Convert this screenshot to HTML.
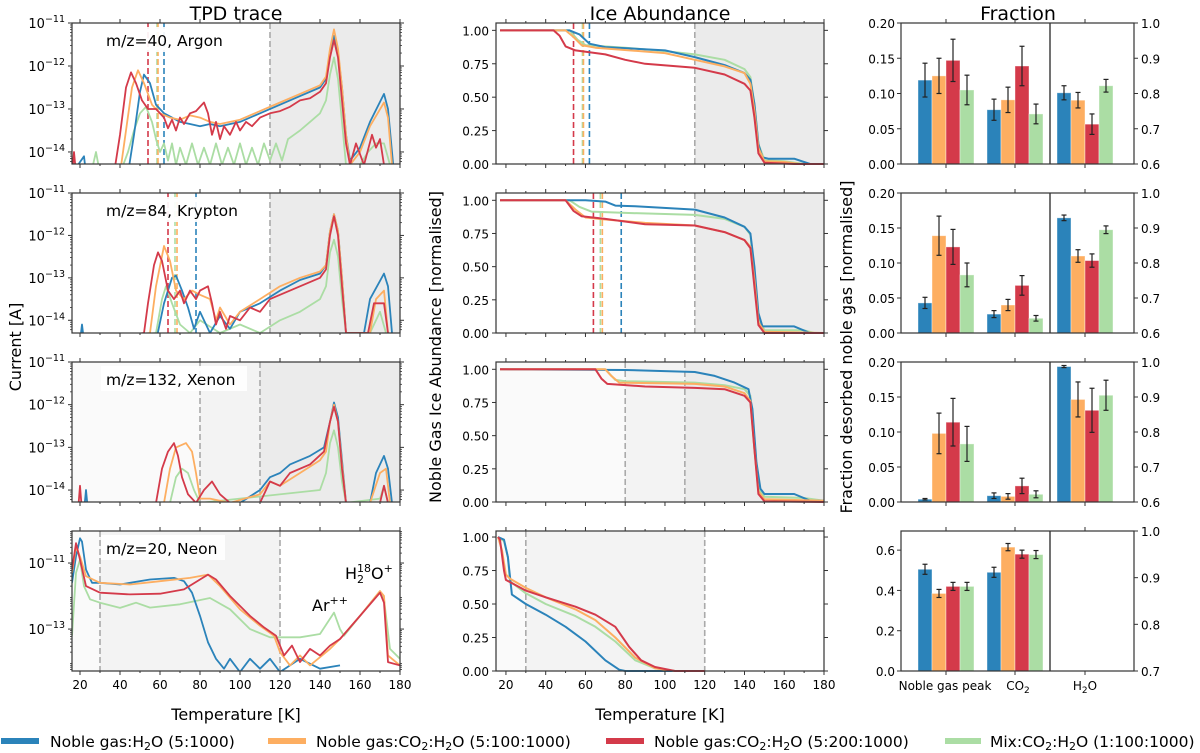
<!DOCTYPE html>
<html><head><meta charset="utf-8"><style>
html,body{margin:0;padding:0;background:#fff;}
svg{display:block;font-family:"DejaVu Sans","Liberation Sans",sans-serif;}
</style></head><body>
<svg id="fig" width="1200" height="753" viewBox="0 0 1200 753" xmlns="http://www.w3.org/2000/svg">
<text x="236" y="20" font-size="19" text-anchor="middle">TPD trace</text>
<text x="660" y="20" font-size="19" text-anchor="middle">Ice Abundance</text>
<text x="1018" y="20" font-size="19" text-anchor="middle">Fraction</text>
<text transform="translate(21,347) rotate(-90)" font-size="16" text-anchor="middle">Current [A]</text>
<text transform="translate(441,347) rotate(-90)" font-size="16" text-anchor="middle">Noble Gas Ice Abundance [normalised]</text>
<text transform="translate(852,347) rotate(-90)" font-size="16" text-anchor="middle">Fraction desorbed noble gas [normalised]</text>
<text x="236" y="720" font-size="16" text-anchor="middle">Temperature [K]</text>
<text x="660" y="720" font-size="16" text-anchor="middle">Temperature [K]</text>
<g id="legend" font-size="15.5">
<g><rect x="1" y="738" width="38" height="6" fill="#2b83ba"/><text x="50" y="747">Noble gas:H<tspan font-size="11" dy="3">2</tspan><tspan dy="-3">O (5:1000)</tspan></text></g>
<g><rect x="268" y="738" width="38" height="6" fill="#fdae61"/><text x="316" y="747">Noble gas:CO<tspan font-size="11" dy="3">2</tspan><tspan dy="-3">:H</tspan><tspan font-size="11" dy="3">2</tspan><tspan dy="-3">O (5:100:1000)</tspan></text></g>
<g><rect x="606" y="738" width="38" height="6" fill="#d43a4a"/><text x="654" y="747">Noble gas:CO<tspan font-size="11" dy="3">2</tspan><tspan dy="-3">:H</tspan><tspan font-size="11" dy="3">2</tspan><tspan dy="-3">O (5:200:1000)</tspan></text></g>
<g><rect x="945" y="738" width="36" height="6" fill="#abdda4"/><text x="990" y="747">Mix:CO<tspan font-size="11" dy="3">2</tspan><tspan dy="-3">:H</tspan><tspan font-size="11" dy="3">2</tspan><tspan dy="-3">O (1:100:1000)</tspan></text></g>
</g>
</svg>
<script>
const NS="http://www.w3.org/2000/svg";
const svg=document.getElementById('fig');
const COLORS=["#2b83ba","#fdae61","#d43a4a","#abdda4"];
const ROWS=[[23,164],[193,333],[362,502],[531,671]];
const rowNames=["argon","krypton","xenon","neon"];
const panelLabels=["m/z=40, Argon","m/z=84, Krypton","m/z=132, Xenon","m/z=20, Neon"];

// ---- TPD data (T, log10 current) ----
const tpdArgonBlue=[[16,-14.5],[22,-14.1],[23,-14.5],[44,-14.5],[47,-13.6],[50,-12.6],[52,-12.2],[55,-12.4],[58,-12.9],[62,-13.1],[66,-13.2],[70,-13.3],[75,-13.35],[80,-13.4],[85,-13.35],[90,-13.4],[100,-13.3],[110,-13.1],[120,-12.9],[130,-12.7],[140,-12.5],[143,-12.3],[145,-11.7],[147,-11.3],[149,-11.7],[151,-12.5],[153,-13.6],[155,-14.2],[160,-13.9],[165,-13.3],[172,-12.65],[174,-13.0],[176,-14.0],[177,-14.5]];
const tpdArgonOrange=[[16,-14.5],[40,-14.5],[43,-13.5],[46,-12.5],[49,-12.1],[52,-12.4],[56,-12.9],[60,-13.1],[65,-13.2],[70,-13.25],[75,-13.15],[80,-13.2],[85,-13.3],[90,-13.35],[100,-13.25],[110,-13.05],[120,-12.85],[130,-12.65],[140,-12.45],[143,-12.25],[145,-11.6],[147,-11.15],[149,-11.6],[151,-12.5],[153,-13.6],[155,-14.3],[160,-14.0],[165,-13.4],[172,-12.85],[174,-13.2],[176,-14.3]];
const tpdArgonRed=[[16,-14.5],[17,-14.0],[18,-14.5],[37,-14.5],[40,-13.6],[43,-12.5],[45.5,-12.15],[48,-12.4],[51,-12.8],[54,-13.0],[58,-13.0],[62,-13.2],[64,-13.45],[66,-13.25],[68,-13.5],[70,-13.2],[72,-13.35],[75,-13.1],[78,-13.05],[80,-12.95],[82,-12.85],[84,-13.1],[86,-13.6],[88,-13.3],[90,-13.7],[92,-13.4],[95,-13.6],[98,-13.3],[100,-13.5],[103,-13.3],[106,-13.4],[110,-13.2],[115,-13.1],[120,-13.05],[125,-12.95],[130,-12.8],[135,-12.75],[140,-12.6],[143,-12.4],[145,-11.8],[147,-11.4],[149,-11.8],[151,-12.8],[153,-13.8],[155,-14.3],[158,-13.8],[162,-14.3],[166,-13.6],[168,-13.9],[170,-13.7],[172,-14.3]];
const tpdArgonGreen=[[16,-14.5],[26,-14.4],[28,-14.0],[30,-14.5],[40,-14.5],[44,-14.0],[47,-13.5],[50,-13.1],[53,-12.95],[56,-13.3],[58,-13.7],[60,-14.0],[62,-13.8],[64,-14.2],[66,-13.8],[68,-14.3],[70,-13.9],[73,-14.3],[76,-13.8],[79,-14.3],[82,-13.9],[85,-14.3],[88,-13.8],[91,-14.3],[94,-13.9],[97,-14.3],[100,-13.8],[103,-14.3],[106,-13.9],[109,-14.3],[112,-13.8],[115,-14.2],[118,-13.8],[121,-14.2],[124,-13.7],[127,-13.6],[130,-13.5],[135,-13.3],[140,-13.1],[143,-12.8],[145,-12.2],[147,-11.8],[149,-12.3],[151,-13.3],[153,-14.3],[160,-14.3],[164,-14.0],[168,-13.8],[172,-13.8],[175,-14.3],[180,-14.3]];
const tpdKryptonBlue=[[16,-14.5],[20,-14.5],[21,-14.1],[22,-14.5],[58,-14.5],[62,-13.6],[66,-13.0],[68,-12.95],[71,-13.3],[74,-13.7],[77,-14.2],[80,-13.8],[85,-14.3],[90,-13.9],[95,-14.2],[100,-13.8],[110,-13.6],[120,-13.3],[130,-13.05],[140,-12.9],[143,-12.7],[145,-11.9],[147,-11.5],[149,-11.9],[151,-13.0],[153,-14.3],[162,-14.3],[165,-13.5],[172,-12.9],[174,-13.2],[176,-14.3]];
const tpdKryptonOrange=[[16,-14.5],[55,-14.3],[58,-13.2],[62,-12.25],[65,-12.6],[68,-13.3],[72,-13.5],[76,-13.3],[80,-13.4],[85,-13.5],[88,-14.0],[90,-13.7],[95,-14.1],[100,-13.8],[110,-13.5],[120,-13.2],[130,-13.0],[140,-12.85],[143,-12.7],[145,-11.9],[147,-11.5],[149,-11.9],[151,-13.0],[153,-14.3],[165,-14.3],[168,-13.5],[172,-13.3],[174,-14.3]];
const tpdKryptonRed=[[16,-14.5],[52,-14.3],[54,-13.6],[57,-12.7],[59,-12.4],[61,-12.6],[64,-13.3],[67,-13.5],[70,-13.3],[72,-13.6],[75,-13.3],[78,-13.5],[80,-13.3],[84,-13.2],[86,-13.6],[88,-14.1],[90,-13.8],[93,-14.2],[95,-13.9],[100,-14.0],[105,-13.7],[110,-13.8],[115,-13.5],[120,-13.4],[130,-13.2],[140,-13.0],[143,-12.8],[145,-12.0],[147,-11.55],[149,-12.0],[151,-13.2],[153,-14.3],[164,-14.3],[167,-13.6],[172,-13.6],[174,-14.3]];
const tpdKryptonGreen=[[16,-14.5],[58,-14.3],[61,-13.5],[63,-13.2],[66,-13.6],[70,-14.1],[75,-14.3],[80,-14.0],[90,-14.3],[100,-14.1],[110,-14.3],[120,-14.0],[130,-13.8],[140,-13.5],[143,-13.2],[145,-12.4],[147,-12.1],[149,-12.5],[151,-13.5],[153,-14.3],[165,-14.3],[170,-13.8],[173,-14.3]];
const tpdXenonBlue=[[16,-14.5],[22,-14.5],[23,-14.0],[24,-14.5],[100,-14.3],[110,-14.0],[115,-13.7],[120,-13.6],[125,-13.4],[135,-13.2],[142,-13.0],[145,-12.4],[147,-11.95],[149,-12.3],[151,-13.3],[153,-14.3],[165,-14.3],[168,-13.6],[172,-13.2],[174,-13.5],[176,-14.3]];
const tpdXenonOrange=[[16,-14.5],[62,-14.3],[65,-13.5],[68,-13.0],[73,-12.9],[76,-13.1],[78,-13.6],[80,-14.2],[85,-14.2],[95,-14.3],[110,-14.1],[115,-13.8],[120,-13.9],[130,-13.6],[140,-13.3],[143,-13.1],[145,-12.4],[147,-12.0],[149,-12.4],[151,-13.4],[153,-14.3],[165,-14.3],[170,-13.6],[173,-13.5],[175,-14.3]];
const tpdXenonRed=[[16,-14.5],[19,-14.5],[20,-13.9],[21,-14.5],[58,-14.3],[61,-13.5],[64,-13.1],[67,-12.9],[69,-13.2],[71,-13.7],[74,-14.1],[78,-14.3],[82,-14.0],[86,-13.8],[90,-14.1],[95,-14.3],[110,-14.3],[115,-13.8],[120,-13.9],[125,-13.6],[135,-13.4],[142,-13.1],[145,-12.4],[147,-12.05],[149,-12.4],[151,-13.5],[153,-14.3],[170,-14.3],[172,-13.9],[174,-14.3]];
const tpdXenonGreen=[[16,-14.5],[65,-14.3],[68,-13.7],[71,-13.5],[74,-13.6],[77,-14.0],[80,-14.3],[140,-14.0],[143,-13.6],[145,-12.9],[147,-12.6],[149,-13.0],[151,-13.8],[153,-14.3],[170,-14.2],[172,-13.9],[174,-14.3]];
const tpdNeonBlue=[[16,-11.6],[18,-10.8],[20,-10.25],[21,-10.35],[23,-11.2],[26,-11.6],[30,-11.6],[40,-11.65],[55,-11.5],[67,-11.45],[72,-11.55],[76,-11.9],[80,-12.6],[84,-13.4],[88,-13.9],[92,-14.2],[95,-13.9],[100,-14.3],[105,-13.9],[110,-14.2],[115,-13.9],[120,-14.3],[130,-13.9],[140,-14.2],[150,-14.1]];
const tpdNeonOrange=[[16,-11.3],[18,-10.5],[20,-10.8],[23,-11.4],[30,-11.6],[45,-11.65],[60,-11.55],[75,-11.45],[84,-11.35],[90,-11.7],[100,-12.4],[110,-12.9],[117,-13.2],[120,-13.7],[125,-14.1],[130,-13.8],[135,-14.1],[145,-13.6],[150,-13.3],[160,-12.6],[170,-11.85],[172,-12.0],[174,-13.8],[180,-14.1]];
const tpdNeonRed=[[16,-11.2],[18,-10.4],[20,-10.9],[23,-11.7],[30,-11.9],[45,-11.95],[60,-11.93],[72,-11.8],[80,-11.5],[84,-11.35],[88,-11.5],[95,-12.0],[105,-12.6],[112,-12.95],[118,-13.2],[122,-13.8],[126,-13.5],[130,-14.0],[135,-13.6],[140,-13.8],[145,-13.5],[150,-13.3],[160,-12.6],[170,-11.9],[172,-12.2],[174,-14.0],[180,-14.1]];
const tpdNeonGreen=[[16,-13.2],[18,-11.3],[20,-10.9],[22,-11.7],[25,-12.1],[30,-12.2],[40,-12.36],[48,-12.2],[55,-12.35],[70,-12.25],[85,-12.06],[95,-12.4],[105,-13.0],[115,-13.25],[130,-13.25],[140,-13.15],[147,-12.5],[150,-13.0],[152,-13.2],[160,-12.6],[170,-11.85],[172,-12.1],[175,-13.6],[180,-13.9]];
const tpdSeries=[[tpdArgonBlue,tpdArgonOrange,tpdArgonRed,tpdArgonGreen],[tpdKryptonBlue,tpdKryptonOrange,tpdKryptonRed,tpdKryptonGreen],[tpdXenonBlue,tpdXenonOrange,tpdXenonRed,tpdXenonGreen],[tpdNeonBlue,tpdNeonOrange,tpdNeonRed,tpdNeonGreen]];
const tpdYlim=[[-14.28,-11],[-14.3,-11],[-14.28,-11],[-14.27,-10.03]];
const tpdYticks=[[-11,-12,-13,-14],[-11,-12,-13,-14],[-11,-12,-13,-14],[-11,-13]];

// ---- Ice abundance data ----
const iceArgonBlue=[[17,1],[52,1],[57,0.97],[62,0.9],[70,0.875],[100,0.85],[115,0.8],[130,0.74],[140,0.68],[143,0.63],[145,0.45],[147,0.15],[149,0.05],[152,0.04],[165,0.04],[173,0],[180,0]];
const iceArgonOrange=[[17,1],[50,1],[54,0.95],[58,0.89],[65,0.87],[100,0.83],[115,0.78],[130,0.73],[140,0.68],[143,0.6],[145,0.4],[147,0.12],[150,0.02],[160,0.015],[168,0],[180,0]];
const iceArgonRed=[[17,1],[44,1],[47,0.96],[50,0.88],[55,0.85],[70,0.82],[80,0.78],[90,0.75],[115,0.72],[130,0.67],[140,0.6],[143,0.55],[145,0.35],[147,0.08],[150,0.01],[165,0],[180,0]];
const iceArgonGreen=[[17,1],[52,1],[56,0.93],[60,0.89],[80,0.87],[100,0.845],[115,0.82],[130,0.78],[140,0.71],[143,0.65],[145,0.45],[147,0.15],[150,0.03],[160,0.02],[170,0],[180,0]];
const iceKryptonBlue=[[17,1],[60,1],[70,0.99],[75,0.96],[85,0.955],[115,0.93],[130,0.87],[140,0.8],[143,0.75],[145,0.5],[147,0.15],[149,0.05],[165,0.05],[173,0],[180,0]];
const iceKryptonOrange=[[17,1],[50,1],[55,0.93],[60,0.87],[70,0.855],[90,0.83],[115,0.81],[130,0.76],[140,0.7],[143,0.65],[145,0.4],[147,0.08],[150,0.01],[180,0]];
const iceKryptonRed=[[17,1],[50,1],[54,0.92],[58,0.88],[70,0.86],[90,0.82],[115,0.81],[130,0.76],[140,0.7],[143,0.64],[145,0.35],[147,0.06],[150,0],[180,0]];
const iceKryptonGreen=[[17,1],[52,1],[57,0.95],[63,0.915],[80,0.905],[115,0.89],[130,0.86],[140,0.8],[143,0.74],[145,0.45],[147,0.12],[150,0.02],[170,0.02],[175,0],[180,0]];
const iceXenonBlue=[[17,1],[80,0.995],[115,0.98],[125,0.95],[135,0.9],[142,0.85],[144,0.7],[146,0.3],[148,0.1],[150,0.06],[165,0.06],[173,0.01],[180,0.01]];
const iceXenonOrange=[[17,1],[70,1],[73,0.95],[77,0.9],[115,0.89],[130,0.87],[140,0.82],[143,0.76],[145,0.4],[147,0.08],[150,0.02],[180,0.01]];
const iceXenonRed=[[17,1],[65,1],[68,0.93],[71,0.89],[90,0.87],[115,0.86],[130,0.85],[140,0.8],[143,0.75],[145,0.4],[147,0.06],[150,0.005],[180,0]];
const iceXenonGreen=[[17,1],[70,1],[75,0.92],[80,0.91],[115,0.9],[130,0.88],[140,0.85],[143,0.8],[145,0.4],[147,0.1],[150,0.04],[170,0.03],[180,0.01]];
const iceNeonBlue=[[16,1],[19,0.98],[21,0.85],[23,0.57],[30,0.5],[40,0.42],[50,0.33],[60,0.22],[70,0.08],[77,0.01],[80,0],[120,0]];
const iceNeonOrange=[[16,1],[18,0.9],[20,0.72],[22,0.69],[30,0.62],[40,0.55],[55,0.46],[65,0.38],[75,0.25],[85,0.1],[95,0.02],[105,0],[120,0]];
const iceNeonRed=[[16,1],[17,0.98],[19,0.75],[20,0.68],[30,0.6],[40,0.55],[55,0.48],[65,0.42],[75,0.33],[82,0.18],[88,0.08],[95,0.03],[105,0],[120,0]];
const iceNeonGreen=[[16,1],[19,0.97],[21,0.85],[22,0.67],[30,0.58],[40,0.5],[55,0.41],[65,0.33],[75,0.22],[85,0.08],[95,0.02],[105,0],[120,0]];
const iceSeries=[[iceArgonBlue,iceArgonOrange,iceArgonRed,iceArgonGreen],[iceKryptonBlue,iceKryptonOrange,iceKryptonRed,iceKryptonGreen],[iceXenonBlue,iceXenonOrange,iceXenonRed,iceXenonGreen],[iceNeonBlue,iceNeonOrange,iceNeonRed,iceNeonGreen]];
const iceYticks=[0,0.25,0.5,0.75,1.0];
const iceYtickLabels=["0.00","0.25","0.50","0.75","1.00"];

// ---- vertical markers & shading ----
const markerTemps=[[54,58.5,59,62],[64,67.5,68.5,78],[],[]]; // order: red, green, orange, blue
const markerColors=["#d43a4a","#abdda4","#fdae61","#2b83ba"];
const greyLines=[[115],[115],[80,110],[30,120]];

// ---- Fraction bars ----
const fracCategories=["Noble gas peak","CO2","H2O"];
const fracArgonNG=[0.119,0.125,0.147,0.105];const fracArgonNGerr=[0.024,0.025,0.03,0.021];
const fracArgonCO2=[0.077,0.091,0.139,0.071];const fracArgonCO2err=[0.015,0.018,0.028,0.014];
const fracArgonH2O=[0.802,0.781,0.713,0.822];const fracArgonH2Oerr=[0.02,0.022,0.029,0.018];
const fracKryptonNG=[0.043,0.139,0.123,0.083];const fracKryptonNGerr=[0.008,0.028,0.025,0.017];
const fracKryptonCO2=[0.027,0.04,0.068,0.021];const fracKryptonCO2err=[0.005,0.008,0.014,0.004];
const fracKryptonH2O=[0.929,0.82,0.807,0.895];const fracKryptonH2Oerr=[0.008,0.018,0.019,0.011];
const fracXenonNG=[0.004,0.098,0.114,0.083];const fracXenonNGerr=[0.001,0.029,0.034,0.025];
const fracXenonCO2=[0.009,0.008,0.023,0.011];const fracXenonCO2err=[0.004,0.004,0.011,0.005];
const fracXenonH2O=[0.987,0.893,0.862,0.905];const fracXenonH2Oerr=[0.003,0.05,0.063,0.043];
const fracNeonNG=[0.505,0.385,0.42,0.42];const fracNeonNGerr=[0.025,0.02,0.02,0.02];
const fracNeonCO2=[0.49,0.615,0.58,0.578];const fracNeonCO2err=[0.025,0.018,0.02,0.02];
const fracVals=[[fracArgonNG,fracArgonCO2,fracArgonH2O],[fracKryptonNG,fracKryptonCO2,fracKryptonH2O],[fracXenonNG,fracXenonCO2,fracXenonH2O],[fracNeonNG,fracNeonCO2,null]];
const fracErrs=[[fracArgonNGerr,fracArgonCO2err,fracArgonH2Oerr],[fracKryptonNGerr,fracKryptonCO2err,fracKryptonH2Oerr],[fracXenonNGerr,fracXenonCO2err,fracXenonH2Oerr],[fracNeonNGerr,fracNeonCO2err,null]];
const fracLeftLim=[[0,0.2],[0,0.2],[0,0.2],[0,0.695]];
const fracRightLim=[[0.6,1.0],[0.6,1.0],[0.6,1.0],[0.7,1.0]];
const fracLeftTicks=[[0,0.05,0.1,0.15,0.2],[0,0.05,0.1,0.15,0.2],[0,0.05,0.1,0.15,0.2],[0,0.2,0.4,0.6]];
const fracLeftLabels=[["0.00","0.05","0.10","0.15","0.20"],["0.00","0.05","0.10","0.15","0.20"],["0.00","0.05","0.10","0.15","0.20"],["0.0","0.2","0.4","0.6"]];
const fracRightTicks=[[0.6,0.7,0.8,0.9,1.0],[0.6,0.7,0.8,0.9,1.0],[0.6,0.7,0.8,0.9,1.0],[0.7,0.8,0.9,1.0]];

const TF=12;
function el(tag,attrs,parent){const e=document.createElementNS(NS,tag);for(const k in attrs)e.setAttribute(k,attrs[k]);(parent||svg).appendChild(e);return e;}
function line(x1,y1,x2,y2,stroke,w,g,dash){const l=el('line',{x1,y1,x2,y2,stroke,'stroke-width':w},g);if(dash)l.setAttribute('stroke-dasharray',dash);return l;}
function txt(x,y,s,anchor,size,g){const t=el('text',{x,y,'font-size':size||12,'text-anchor':anchor||'middle'},g);t.textContent=s;return t;}

function drawTPDPanel(r){
  const x0=72,x1=400,[y0,y1]=ROWS[r];const [lo,hi]=tpdYlim[r];
  const X=T=>x0+(T-16)*(x1-x0)/(180-16);
  const Y=v=>y1-(v-lo)*(y1-y0)/(hi-lo);
  const g=el('g',{});
  
  
  drawShading(g,r,X,y0,y1,x0,x1);
  const cp='clip-tpd-'+r;
  const c=el('clipPath',{id:cp},g);el('rect',{x:x0,y:y0,width:x1-x0,height:y1-y0},c);
  const lg=el('g',{'clip-path':'url(#'+cp+')'},g);
  greyLines[r].forEach(T=>{const l=line(X(T),y0,X(T),y1,'#aaa',1.6,lg,'6,3');});
  markerTemps[r].forEach((T,i)=>{const l=line(X(T),y0,X(T),y1,markerColors[i],1.6,lg,'6,3');});
  [3,0,1,2].forEach(i=>{const pts=tpdSeries[r][i].map(p=>X(p[0]).toFixed(1)+','+Y(Math.max(p[1],lo-0.5)).toFixed(1)).join(' ');
    const pl=el('polyline',{points:pts,fill:'none',stroke:COLORS[i],'stroke-width':1.8,'stroke-linejoin':'round'},lg);
    
    });
  const lbl=el('g',{},g);
  const widths=[122,140,146,124];
  el('rect',{x:101,y:y0+4,width:widths[r],height:25,fill:'#fff','fill-opacity':0.92},lbl);
  txt(106,y0+23,panelLabels[r],'start',15.5,lbl);
  drawFrame(g,x0,x1,y0,y1);
  for(let T=20;T<=180;T+=20){line(X(T),y1,X(T),y1+4,'#333',1,g);line(X(T),y0,X(T),y0-4,'#333',1,g);if(r==3)txt(X(T),y1+18,String(T),'middle',TF,g);}
  for(let T=30;T<=170;T+=20){line(X(T),y1,X(T),y1+2,'#333',1,g);}
  tpdYticks[r].forEach(v=>{const y=Y(v);line(x0-4,y,x0,y,'#333',1,g);line(x1,y,x1+4,y,'#333',1,g);
    const t=el('text',{x:x0-7,y:y+5,'font-size':TF+1,'text-anchor':'end'},g);t.textContent='10';const s=el('tspan',{'font-size':9.5,dy:-6},t);s.textContent='\u2212'+(-v);});
  for(let d=Math.floor(lo);d<hi;d++){for(let m=2;m<=9;m++){const v=d+Math.log10(m);if(v>lo&&v<hi){line(x0-2,Y(v),x0,Y(v),'#333',0.8,g);line(x1,Y(v),x1+2,Y(v),'#333',0.8,g);}}}
  if(r==3){
    const h=el('text',{x:345,y:y0+48,'font-size':16},g);h.textContent='H';const a=el('tspan',{'font-size':11,dy:4},h);a.textContent='2';const b=el('tspan',{'font-size':11,dy:-11,dx:-7},h);b.textContent='18';const c2=el('tspan',{'font-size':16,dy:7},h);c2.textContent='O';const d=el('tspan',{'font-size':11,dy:-7},h);d.textContent='+';
    
    const ar=el('text',{x:312,y:y0+80,'font-size':16},g);ar.textContent='Ar';const q=el('tspan',{'font-size':11,dy:-7},ar);q.textContent='++';
    }
}
function drawShading(g,r,X,y0,y1,x0,x1){
  const sh=el('g',{},g);
  if(r<2){el('rect',{x:X(115),y:y0,width:x1-X(115),height:y1-y0,fill:'#ebebeb'},sh);}
  else if(r==2){el('rect',{x:x0,y:y0,width:X(80)-x0,height:y1-y0,fill:'#fafafa'},sh);el('rect',{x:X(80),y:y0,width:X(110)-X(80),height:y1-y0,fill:'#f3f3f3'},sh);el('rect',{x:X(110),y:y0,width:x1-X(110),height:y1-y0,fill:'#ebebeb'},sh);}
  else {el('rect',{x:x0,y:y0,width:X(30)-x0,height:y1-y0,fill:'#fafafa'},sh);el('rect',{x:X(30),y:y0,width:X(120)-X(30),height:y1-y0,fill:'#f3f3f3'},sh);}
}
function drawFrame(g,x0,x1,y0,y1){const f=el('rect',{x:x0,y:y0,width:x1-x0,height:y1-y0,fill:'none',stroke:'#333','stroke-width':1.2},g);}

function drawIcePanel(r){
  const x0=496,x1=824,[y0,y1]=ROWS[r];const lo=0,hi=r==3?1.045:1.055;
  const X=T=>x0+(T-15)*(x1-x0)/(180-15);
  const Y=v=>y1-(v-lo)*(y1-y0)/(hi-lo);
  const g=el('g',{});
  
  
  drawShading(g,r,X,y0,y1,x0,x1);
  greyLines[r].forEach(T=>{line(X(T),y0,X(T),y1,'#aaa',1.6,g,'6,3');});
  markerTemps[r].forEach((T,i)=>{line(X(T),y0,X(T),y1,markerColors[i],1.6,g,'6,3');});
  [3,0,1,2].forEach(i=>{const pts=iceSeries[r][i].map(p=>X(p[0]).toFixed(1)+','+Y(p[1]).toFixed(1)).join(' ');
    const pl=el('polyline',{points:pts,fill:'none',stroke:COLORS[i],'stroke-width':2,'stroke-linejoin':'round'},g);
    
    });
  drawFrame(g,x0,x1,y0,y1);
  for(let T=20;T<=180;T+=20){line(X(T),y1,X(T),y1+4,'#333',1,g);line(X(T),y0,X(T),y0-4,'#333',1,g);if(r==3)txt(X(T),y1+18,String(T),'middle',TF,g);}
  for(let T=30;T<=170;T+=20){line(X(T),y1,X(T),y1+2,'#333',1,g);line(X(T),y0,X(T),y0-2,'#333',1,g);}
  iceYticks.forEach((v,k)=>{const y=Y(v);line(x0-4,y,x0,y,'#333',1,g);line(x1,y,x1+4,y,'#333',1,g);txt(x0-7,y+5,iceYtickLabels[k],'end',TF,g);});
}

function drawFracPanel(r){
  const x0=901,x1=1134,[y0,y1]=ROWS[r];
  const [llo,lhi]=fracLeftLim[r],[rlo,rhi]=fracRightLim[r];
  const YL=v=>y1-(v-llo)*(y1-y0)/(lhi-llo);
  const YR=v=>y1-(v-rlo)*(y1-y0)/(rhi-rlo);
  const centers=[946,1015,1085];const bw=14;
  const g=el('g',{});
  
  
  fracVals[r].forEach((vals,c)=>{if(!vals)return;const Y=c==2?YR:YL;const errs=fracErrs[r][c];
    vals.forEach((v,i)=>{const bx=centers[c]+(i-2)*bw;const yv=Y(v);
      const b=el('rect',{x:bx,y:yv,width:bw,height:y1-yv,fill:COLORS[i],stroke:'#fff','stroke-opacity':0.5,'stroke-width':0.8},g);
      
      
      const cx=bx+bw/2,e=errs[i];line(cx,Y(v+e),cx,Y(v-e),'#222',1.2,g);line(cx-2.5,Y(v+e),cx+2.5,Y(v+e),'#222',1.2,g);line(cx-2.5,Y(v-e),cx+2.5,Y(v-e),'#222',1.2,g);});});
  line(1050,y0,1050,y1,'#444',1.5,g);
  drawFrame(g,x0,x1,y0,y1);
  centers.forEach(cx=>{line(cx,y0,cx,y0-4,'#333',1,g);line(cx,y1,cx,y1+4,'#333',1,g);});
  fracLeftTicks[r].forEach((v,k)=>{const y=YL(v);line(x0-4,y,x0,y,'#333',1,g);txt(x0-6,y+5,fracLeftLabels[r][k],'end',TF,g);});
  fracRightTicks[r].forEach(v=>{const y=YR(v);line(x1,y,x1+4,y,'#333',1,g);txt(x1+7,y+5,v.toFixed(1),'start',TF,g);});
  if(r==3){txt(945,y1+19,fracCategories[0],'middle',TF,g);
    const c=el('text',{x:1018,y:y1+19,'font-size':TF,'text-anchor':'middle'},g);c.textContent='CO';const s=el('tspan',{'font-size':9,dy:3},c);s.textContent='2';
    const h=el('text',{x:1085,y:y1+19,'font-size':TF,'text-anchor':'middle'},g);h.textContent='H';const s2=el('tspan',{'font-size':9,dy:3},h);s2.textContent='2';const s3=el('tspan',{dy:-3},h);s3.textContent='O';}
}
for(let r=0;r<4;r++){drawTPDPanel(r);drawIcePanel(r);drawFracPanel(r);}
</script>
</body></html>
